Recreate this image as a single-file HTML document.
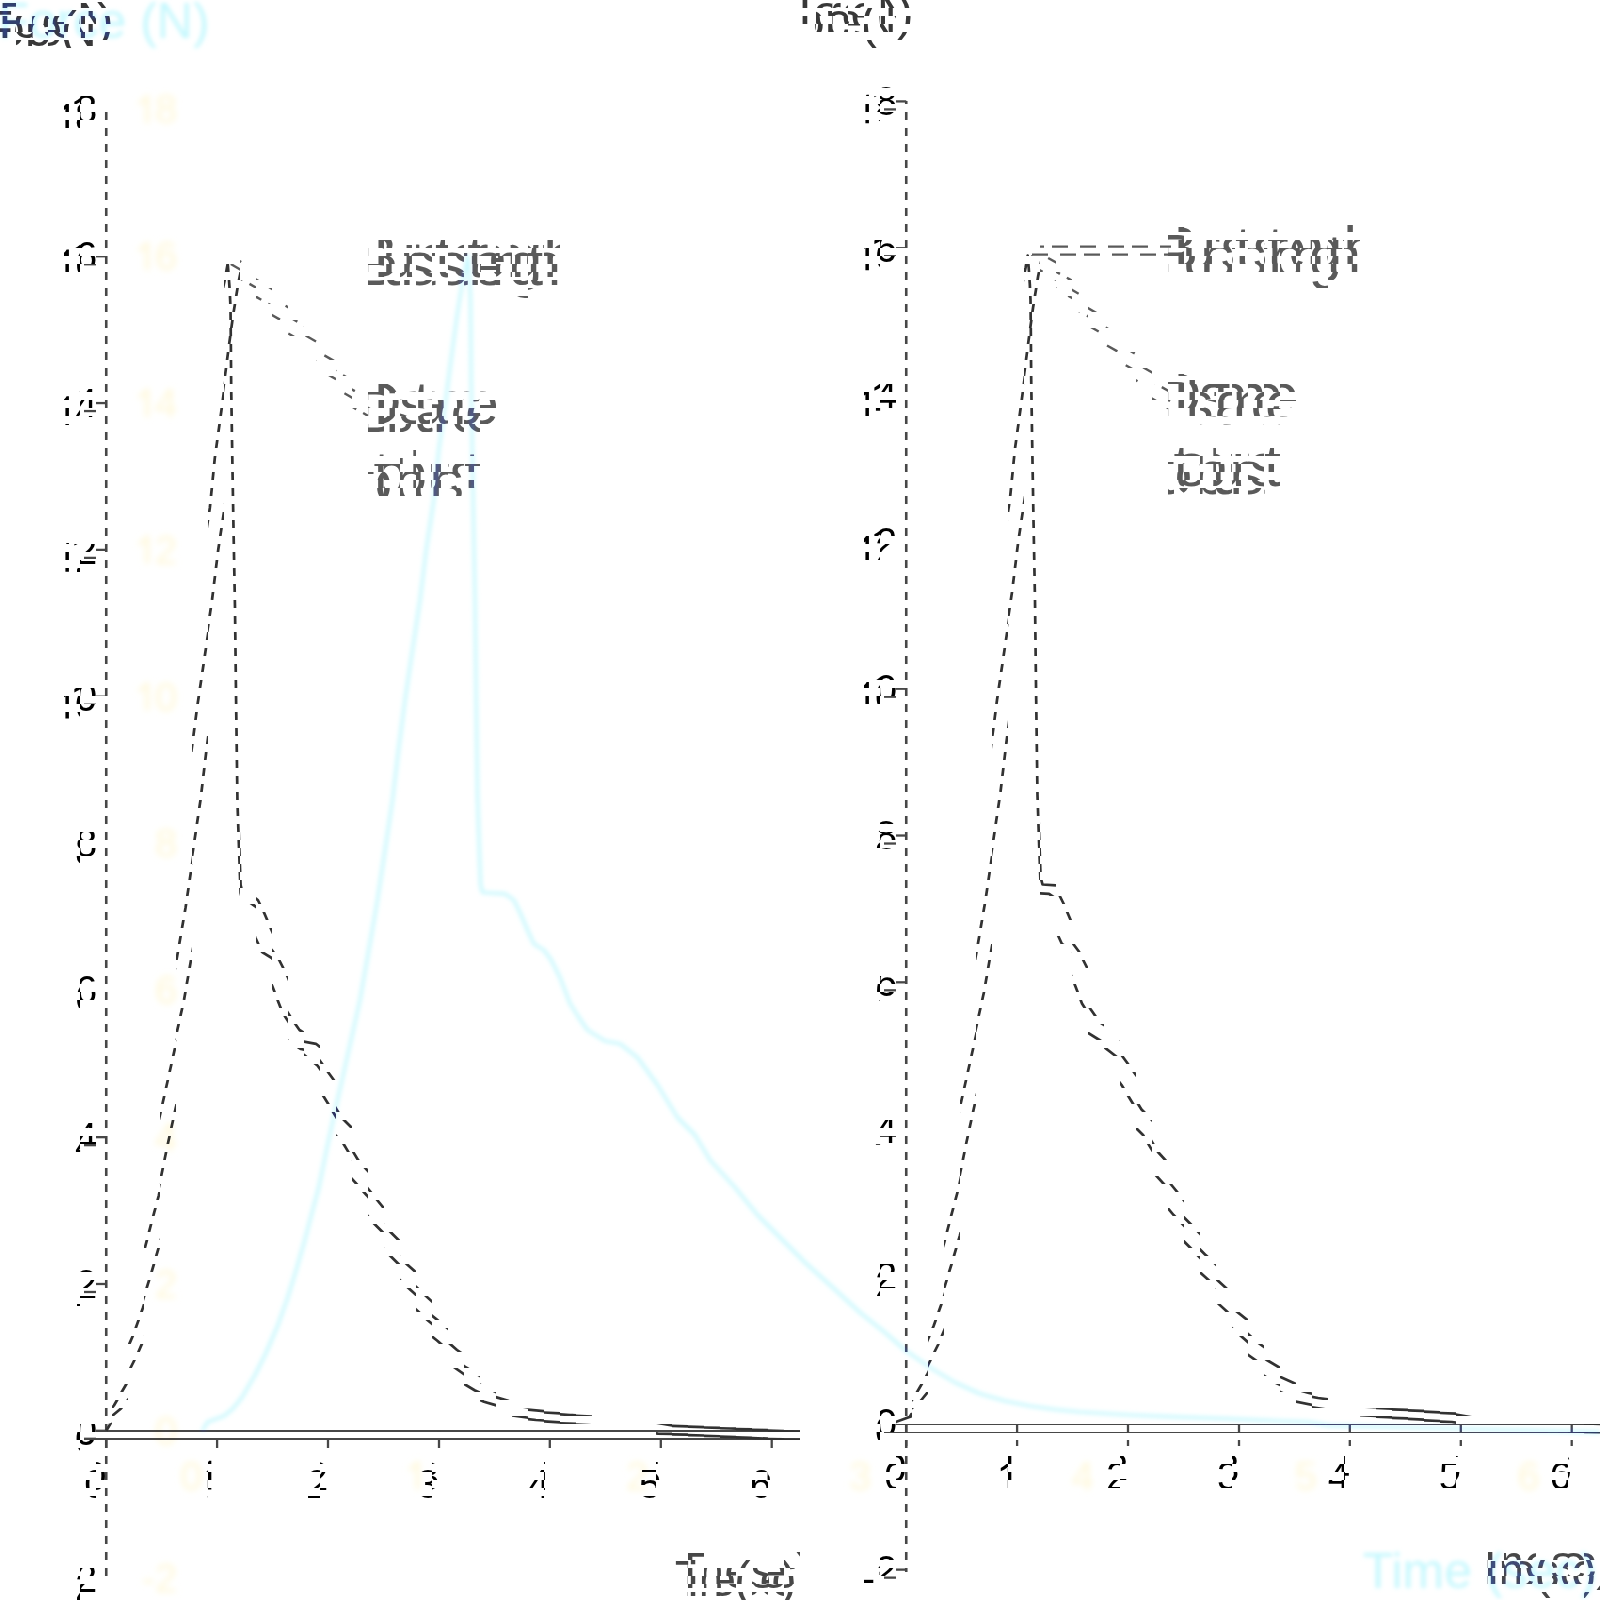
<!DOCTYPE html><html><head><meta charset="utf-8"><title>chart</title>
<style>html,body{margin:0;padding:0;background:#fff;overflow:hidden}body>svg{display:block;position:absolute;left:0;top:0}</style></head><body>
<svg width="1600" height="1600" viewBox="0 0 1600 1600">
<defs>
<g id="src"><path d="M202.25,109 V1580" stroke="#464646" stroke-width="2.6" fill="none"/>
<path d="M180,1431.55 H1600" stroke="#464646" stroke-width="2.9" fill="none"/>
<path d="M180,1577.62 H202.25" stroke="#464646" stroke-width="2.3"/>
<text x="154.96" y="1591.52" font-size="40" fill="#000" font-family="Liberation Sans, sans-serif">2</text><text x="141.64" y="1591.52" font-size="40" fill="#000" font-family="Liberation Sans, sans-serif">-</text>
<path d="M180,1430.80 H202.25" stroke="#464646" stroke-width="2.3"/>
<text x="154.96" y="1444.70" font-size="40" fill="#000" font-family="Liberation Sans, sans-serif">0</text>
<path d="M180,1283.98 H202.25" stroke="#464646" stroke-width="2.3"/>
<text x="154.96" y="1297.88" font-size="40" fill="#000" font-family="Liberation Sans, sans-serif">2</text>
<path d="M180,1137.16 H202.25" stroke="#464646" stroke-width="2.3"/>
<text x="154.96" y="1151.06" font-size="40" fill="#000" font-family="Liberation Sans, sans-serif">4</text>
<path d="M180,990.34 H202.25" stroke="#464646" stroke-width="2.3"/>
<text x="154.96" y="1004.24" font-size="40" fill="#000" font-family="Liberation Sans, sans-serif">6</text>
<path d="M180,843.52 H202.25" stroke="#464646" stroke-width="2.3"/>
<text x="154.96" y="857.42" font-size="40" fill="#000" font-family="Liberation Sans, sans-serif">8</text>
<path d="M180,696.70 H202.25" stroke="#464646" stroke-width="2.3"/>
<text x="154.96" y="710.60" font-size="40" fill="#000" font-family="Liberation Sans, sans-serif">0</text><path transform="translate(134.02,710.60) scale(0.01953,-0.01953)" d="M763 0 H583 V1147 Q518 1085 412.5 1023 T223 930 V1104 Q373 1174.5 485 1274.5 T644 1469 H763 Z" fill="#000"/>
<path d="M180,549.88 H202.25" stroke="#464646" stroke-width="2.3"/>
<text x="154.96" y="563.78" font-size="40" fill="#000" font-family="Liberation Sans, sans-serif">2</text><path transform="translate(134.02,563.78) scale(0.01953,-0.01953)" d="M763 0 H583 V1147 Q518 1085 412.5 1023 T223 930 V1104 Q373 1174.5 485 1274.5 T644 1469 H763 Z" fill="#000"/>
<path d="M180,403.06 H202.25" stroke="#464646" stroke-width="2.3"/>
<text x="154.96" y="416.96" font-size="40" fill="#000" font-family="Liberation Sans, sans-serif">4</text><path transform="translate(134.02,416.96) scale(0.01953,-0.01953)" d="M763 0 H583 V1147 Q518 1085 412.5 1023 T223 930 V1104 Q373 1174.5 485 1274.5 T644 1469 H763 Z" fill="#000"/>
<path d="M180,256.24 H202.25" stroke="#464646" stroke-width="2.3"/>
<text x="154.96" y="270.14" font-size="40" fill="#000" font-family="Liberation Sans, sans-serif">6</text><path transform="translate(134.02,270.14) scale(0.01953,-0.01953)" d="M763 0 H583 V1147 Q518 1085 412.5 1023 T223 930 V1104 Q373 1174.5 485 1274.5 T644 1469 H763 Z" fill="#000"/>
<path d="M180,109.42 H202.25" stroke="#464646" stroke-width="2.3"/>
<text x="154.96" y="123.32" font-size="40" fill="#000" font-family="Liberation Sans, sans-serif">8</text><path transform="translate(134.02,123.32) scale(0.01953,-0.01953)" d="M763 0 H583 V1147 Q518 1085 412.5 1023 T223 930 V1104 Q373 1174.5 485 1274.5 T644 1469 H763 Z" fill="#000"/>
<path d="M202.2,1431.55 V1454" stroke="#464646" stroke-width="2.3"/>
<text x="180.21" y="1489.50" font-size="40" fill="#000" font-family="Liberation Sans, sans-serif">0</text>
<path d="M425.1,1431.55 V1454" stroke="#464646" stroke-width="2.3"/>
<path transform="translate(404.41,1489.50) scale(0.01953,-0.01953)" d="M763 0 H583 V1147 Q518 1085 412.5 1023 T223 930 V1104 Q373 1174.5 485 1274.5 T644 1469 H763 Z" fill="#000"/>
<path d="M648.0,1431.55 V1454" stroke="#464646" stroke-width="2.3"/>
<text x="626.01" y="1489.50" font-size="40" fill="#000" font-family="Liberation Sans, sans-serif">2</text>
<path d="M871.0,1431.55 V1454" stroke="#464646" stroke-width="2.3"/>
<text x="848.91" y="1489.50" font-size="40" fill="#000" font-family="Liberation Sans, sans-serif">3</text>
<path d="M1093.8,1431.55 V1454" stroke="#464646" stroke-width="2.3"/>
<text x="1071.81" y="1489.50" font-size="40" fill="#000" font-family="Liberation Sans, sans-serif">4</text>
<path d="M1316.8,1431.55 V1454" stroke="#464646" stroke-width="2.3"/>
<text x="1294.71" y="1489.50" font-size="40" fill="#000" font-family="Liberation Sans, sans-serif">5</text>
<path d="M1539.7,1431.55 V1454" stroke="#464646" stroke-width="2.3"/>
<text x="1517.61" y="1489.50" font-size="40" fill="#000" font-family="Liberation Sans, sans-serif">6</text>
<text x="741.5" y="276.5" font-size="61" fill="#5a5a5a" font-family="Liberation Sans, sans-serif">Burst strength</text>
<text x="741.5" y="424.2" font-size="61" fill="#5a5a5a" font-family="Liberation Sans, sans-serif">Distance</text>
<text x="741.5" y="493.5" font-size="61" fill="#5a5a5a" font-family="Liberation Sans, sans-serif">to burst</text>
<path d="M472,254.6 H739" stroke="#5a5a5a" stroke-width="2.4" stroke-dasharray="12 8" fill="none"/>
<path d="M470.8,256 L738,409" stroke="#5a5a5a" stroke-width="2.4" stroke-dasharray="12 8" fill="none"/>
 <text x="-1.5" y="37.5" font-size="50" fill="#393939" font-family="Liberation Sans, sans-serif">Force (N)</text>
<text x="1597" y="1588.3" font-size="50" text-anchor="end" fill="#464646" font-family="Liberation Sans, sans-serif">Time (sec)</text>
<path d="M202.3,1430.8 L207.5,1422.0 L224.0,1416.0 L233.0,1408.5 L241.9,1397.5 L255.0,1375.0 L266.2,1352.5 L277.5,1326.2 L286.9,1300.0 L296.2,1270.0 L303.8,1243.8 L311.2,1215.6 L318.8,1187.5 L326.5,1150.0 L337.5,1100.0 L348.8,1050.0 L360.0,1000.0 L368.8,950.0 L377.5,900.0 L385.0,850.0 L392.5,800.0 L398.5,750.0 L405.0,700.0 L412.5,650.0 L420.0,600.0 L426.2,550.0 L433.8,500.0 L438.8,450.0 L445.5,402.0 L452.6,348.0 L457.0,316.0 L462.2,284.0 L465.5,268.0 L467.7,255.5 L468.7,268.0 L469.8,284.0 L470.5,300.0 L470.8,330.0 L471.2,380.0 L472.3,450.0 L473.5,520.0 L475.0,600.0 L476.2,700.0 L477.5,795.0 L479.0,840.0 L480.6,885.0 L482.5,892.5 L505.0,893.8 L513.8,900.0 L520.0,912.5 L527.5,930.0 L533.8,943.8 L543.8,950.0 L551.2,960.0 L560.0,977.5 L570.0,1003.5 L578.8,1017.5 L587.5,1030.0 L605.0,1041.0 L620.0,1043.8 L637.5,1057.5 L657.5,1085.0 L677.5,1117.5 L695.0,1135.0 L710.0,1160.0 L735.0,1187.5 L757.5,1215.0 L780.0,1237.5 L805.0,1262.5 L830.0,1285.0 L860.0,1312.5 L885.0,1332.5 L905.0,1350.0 L930.0,1367.5 L955.0,1382.5 L980.0,1393.8 L1005.0,1401.0 L1030.0,1406.0 L1055.0,1409.5 L1080.0,1412.0 L1130.0,1415.0 L1180.0,1417.2 L1230.0,1418.8 L1280.0,1421.0 L1308.0,1422.0 L1330.0,1425.6 L1450.0,1428.5 L1577.0,1431.6 L1600.0,1432.2" stroke="#323232" stroke-width="2.7" fill="none" stroke-linejoin="round"/></g>
<clipPath id="cA"><rect x="0" y="0" width="1600" height="8"/><rect x="0" y="16" width="1600" height="8"/><rect x="0" y="32" width="1600" height="8"/><rect x="0" y="48" width="1600" height="8"/><rect x="0" y="64" width="1600" height="8"/><rect x="0" y="80" width="1600" height="8"/><rect x="0" y="96" width="1600" height="8"/><rect x="0" y="112" width="1600" height="8"/><rect x="0" y="128" width="1600" height="8"/><rect x="0" y="144" width="1600" height="8"/><rect x="0" y="160" width="1600" height="8"/><rect x="0" y="176" width="1600" height="8"/><rect x="0" y="192" width="1600" height="8"/><rect x="0" y="208" width="1600" height="8"/><rect x="0" y="224" width="1600" height="8"/><rect x="0" y="240" width="1600" height="8"/><rect x="0" y="256" width="1600" height="8"/><rect x="0" y="272" width="1600" height="8"/><rect x="0" y="288" width="1600" height="8"/><rect x="0" y="304" width="1600" height="8"/><rect x="0" y="320" width="1600" height="8"/><rect x="0" y="336" width="1600" height="8"/><rect x="0" y="352" width="1600" height="8"/><rect x="0" y="368" width="1600" height="8"/><rect x="0" y="384" width="1600" height="8"/><rect x="0" y="400" width="1600" height="8"/><rect x="0" y="416" width="1600" height="8"/><rect x="0" y="432" width="1600" height="8"/><rect x="0" y="448" width="1600" height="8"/><rect x="0" y="464" width="1600" height="8"/><rect x="0" y="480" width="1600" height="8"/><rect x="0" y="496" width="1600" height="8"/><rect x="0" y="512" width="1600" height="8"/><rect x="0" y="528" width="1600" height="8"/><rect x="0" y="544" width="1600" height="8"/><rect x="0" y="560" width="1600" height="8"/><rect x="0" y="576" width="1600" height="8"/><rect x="0" y="592" width="1600" height="8"/><rect x="0" y="608" width="1600" height="8"/><rect x="0" y="624" width="1600" height="8"/><rect x="0" y="640" width="1600" height="8"/><rect x="0" y="656" width="1600" height="8"/><rect x="0" y="672" width="1600" height="8"/><rect x="0" y="688" width="1600" height="8"/><rect x="0" y="704" width="1600" height="8"/><rect x="0" y="720" width="1600" height="8"/><rect x="0" y="736" width="1600" height="8"/><rect x="0" y="752" width="1600" height="8"/><rect x="0" y="768" width="1600" height="8"/><rect x="0" y="784" width="1600" height="8"/><rect x="0" y="800" width="1600" height="8"/><rect x="0" y="816" width="1600" height="8"/><rect x="0" y="832" width="1600" height="8"/><rect x="0" y="848" width="1600" height="8"/><rect x="0" y="864" width="1600" height="8"/><rect x="0" y="880" width="1600" height="8"/><rect x="0" y="896" width="1600" height="8"/><rect x="0" y="912" width="1600" height="8"/><rect x="0" y="928" width="1600" height="8"/><rect x="0" y="944" width="1600" height="8"/><rect x="0" y="960" width="1600" height="8"/><rect x="0" y="976" width="1600" height="8"/><rect x="0" y="992" width="1600" height="8"/><rect x="0" y="1008" width="1600" height="8"/><rect x="0" y="1024" width="1600" height="8"/><rect x="0" y="1040" width="1600" height="8"/><rect x="0" y="1056" width="1600" height="8"/><rect x="0" y="1072" width="1600" height="8"/><rect x="0" y="1088" width="1600" height="8"/><rect x="0" y="1104" width="1600" height="8"/><rect x="0" y="1120" width="1600" height="8"/><rect x="0" y="1136" width="1600" height="8"/><rect x="0" y="1152" width="1600" height="8"/><rect x="0" y="1168" width="1600" height="8"/><rect x="0" y="1184" width="1600" height="8"/><rect x="0" y="1200" width="1600" height="8"/><rect x="0" y="1216" width="1600" height="8"/><rect x="0" y="1232" width="1600" height="8"/><rect x="0" y="1248" width="1600" height="8"/><rect x="0" y="1264" width="1600" height="8"/><rect x="0" y="1280" width="1600" height="8"/><rect x="0" y="1296" width="1600" height="8"/><rect x="0" y="1312" width="1600" height="8"/><rect x="0" y="1328" width="1600" height="8"/><rect x="0" y="1344" width="1600" height="8"/><rect x="0" y="1360" width="1600" height="8"/><rect x="0" y="1376" width="1600" height="8"/><rect x="0" y="1392" width="1600" height="8"/><rect x="0" y="1408" width="1600" height="8"/><rect x="0" y="1424" width="1600" height="8"/><rect x="0" y="1440" width="1600" height="8"/><rect x="0" y="1456" width="1600" height="8"/><rect x="0" y="1472" width="1600" height="8"/><rect x="0" y="1488" width="1600" height="8"/><rect x="0" y="1504" width="1600" height="8"/><rect x="0" y="1520" width="1600" height="8"/><rect x="0" y="1536" width="1600" height="8"/><rect x="0" y="1552" width="1600" height="8"/><rect x="0" y="1568" width="1600" height="8"/><rect x="0" y="1584" width="1600" height="8"/></clipPath><clipPath id="cB"><rect x="0" y="8" width="1600" height="8"/><rect x="0" y="24" width="1600" height="8"/><rect x="0" y="40" width="1600" height="8"/><rect x="0" y="56" width="1600" height="8"/><rect x="0" y="72" width="1600" height="8"/><rect x="0" y="88" width="1600" height="8"/><rect x="0" y="104" width="1600" height="8"/><rect x="0" y="120" width="1600" height="8"/><rect x="0" y="136" width="1600" height="8"/><rect x="0" y="152" width="1600" height="8"/><rect x="0" y="168" width="1600" height="8"/><rect x="0" y="184" width="1600" height="8"/><rect x="0" y="200" width="1600" height="8"/><rect x="0" y="216" width="1600" height="8"/><rect x="0" y="232" width="1600" height="8"/><rect x="0" y="248" width="1600" height="8"/><rect x="0" y="264" width="1600" height="8"/><rect x="0" y="280" width="1600" height="8"/><rect x="0" y="296" width="1600" height="8"/><rect x="0" y="312" width="1600" height="8"/><rect x="0" y="328" width="1600" height="8"/><rect x="0" y="344" width="1600" height="8"/><rect x="0" y="360" width="1600" height="8"/><rect x="0" y="376" width="1600" height="8"/><rect x="0" y="392" width="1600" height="8"/><rect x="0" y="408" width="1600" height="8"/><rect x="0" y="424" width="1600" height="8"/><rect x="0" y="440" width="1600" height="8"/><rect x="0" y="456" width="1600" height="8"/><rect x="0" y="472" width="1600" height="8"/><rect x="0" y="488" width="1600" height="8"/><rect x="0" y="504" width="1600" height="8"/><rect x="0" y="520" width="1600" height="8"/><rect x="0" y="536" width="1600" height="8"/><rect x="0" y="552" width="1600" height="8"/><rect x="0" y="568" width="1600" height="8"/><rect x="0" y="584" width="1600" height="8"/><rect x="0" y="600" width="1600" height="8"/><rect x="0" y="616" width="1600" height="8"/><rect x="0" y="632" width="1600" height="8"/><rect x="0" y="648" width="1600" height="8"/><rect x="0" y="664" width="1600" height="8"/><rect x="0" y="680" width="1600" height="8"/><rect x="0" y="696" width="1600" height="8"/><rect x="0" y="712" width="1600" height="8"/><rect x="0" y="728" width="1600" height="8"/><rect x="0" y="744" width="1600" height="8"/><rect x="0" y="760" width="1600" height="8"/><rect x="0" y="776" width="1600" height="8"/><rect x="0" y="792" width="1600" height="8"/><rect x="0" y="808" width="1600" height="8"/><rect x="0" y="824" width="1600" height="8"/><rect x="0" y="840" width="1600" height="8"/><rect x="0" y="856" width="1600" height="8"/><rect x="0" y="872" width="1600" height="8"/><rect x="0" y="888" width="1600" height="8"/><rect x="0" y="904" width="1600" height="8"/><rect x="0" y="920" width="1600" height="8"/><rect x="0" y="936" width="1600" height="8"/><rect x="0" y="952" width="1600" height="8"/><rect x="0" y="968" width="1600" height="8"/><rect x="0" y="984" width="1600" height="8"/><rect x="0" y="1000" width="1600" height="8"/><rect x="0" y="1016" width="1600" height="8"/><rect x="0" y="1032" width="1600" height="8"/><rect x="0" y="1048" width="1600" height="8"/><rect x="0" y="1064" width="1600" height="8"/><rect x="0" y="1080" width="1600" height="8"/><rect x="0" y="1096" width="1600" height="8"/><rect x="0" y="1112" width="1600" height="8"/><rect x="0" y="1128" width="1600" height="8"/><rect x="0" y="1144" width="1600" height="8"/><rect x="0" y="1160" width="1600" height="8"/><rect x="0" y="1176" width="1600" height="8"/><rect x="0" y="1192" width="1600" height="8"/><rect x="0" y="1208" width="1600" height="8"/><rect x="0" y="1224" width="1600" height="8"/><rect x="0" y="1240" width="1600" height="8"/><rect x="0" y="1256" width="1600" height="8"/><rect x="0" y="1272" width="1600" height="8"/><rect x="0" y="1288" width="1600" height="8"/><rect x="0" y="1304" width="1600" height="8"/><rect x="0" y="1320" width="1600" height="8"/><rect x="0" y="1336" width="1600" height="8"/><rect x="0" y="1352" width="1600" height="8"/><rect x="0" y="1368" width="1600" height="8"/><rect x="0" y="1384" width="1600" height="8"/><rect x="0" y="1400" width="1600" height="8"/><rect x="0" y="1416" width="1600" height="8"/><rect x="0" y="1432" width="1600" height="8"/><rect x="0" y="1448" width="1600" height="8"/><rect x="0" y="1464" width="1600" height="8"/><rect x="0" y="1480" width="1600" height="8"/><rect x="0" y="1496" width="1600" height="8"/><rect x="0" y="1512" width="1600" height="8"/><rect x="0" y="1528" width="1600" height="8"/><rect x="0" y="1544" width="1600" height="8"/><rect x="0" y="1560" width="1600" height="8"/><rect x="0" y="1576" width="1600" height="8"/><rect x="0" y="1592" width="1600" height="8"/></clipPath>
<filter id="soft" x="0" y="0" width="1600" height="1600" filterUnits="userSpaceOnUse"><feGaussianBlur stdDeviation="0.45"/></filter>
<filter id="bl2" x="-20%" y="-20%" width="140%" height="140%"><feGaussianBlur stdDeviation="3"/></filter>
<filter id="bl" x="-5%" y="-5%" width="110%" height="110%"><feGaussianBlur stdDeviation="2"/></filter>
</defs>
<rect width="1600" height="1600" fill="#fff"/>
<g filter="url(#soft)">
<g clip-path="url(#cA)">
<svg x="0" y="0" width="16" height="1600" viewBox="0 0 16 1600"><use href="#src"/></svg><svg x="16" y="0" width="16" height="1600" viewBox="32 0 16 1600"><use href="#src"/></svg><svg x="32" y="0" width="16" height="1600" viewBox="64 0 16 1600"><use href="#src"/></svg><svg x="48" y="0" width="16" height="1600" viewBox="96 0 16 1600"><use href="#src"/></svg><svg x="64" y="0" width="16" height="1600" viewBox="128 0 16 1600"><use href="#src"/></svg><svg x="80" y="0" width="16" height="1600" viewBox="160 0 16 1600"><use href="#src"/></svg><svg x="96" y="0" width="16" height="1600" viewBox="192 0 16 1600"><use href="#src"/></svg><svg x="112" y="0" width="16" height="1600" viewBox="224 0 16 1600"><use href="#src"/></svg><svg x="128" y="0" width="16" height="1600" viewBox="256 0 16 1600"><use href="#src"/></svg><svg x="144" y="0" width="16" height="1600" viewBox="288 0 16 1600"><use href="#src"/></svg><svg x="160" y="0" width="16" height="1600" viewBox="320 0 16 1600"><use href="#src"/></svg><svg x="176" y="0" width="16" height="1600" viewBox="352 0 16 1600"><use href="#src"/></svg><svg x="192" y="0" width="16" height="1600" viewBox="384 0 16 1600"><use href="#src"/></svg><svg x="208" y="0" width="16" height="1600" viewBox="416 0 16 1600"><use href="#src"/></svg><svg x="224" y="0" width="16" height="1600" viewBox="448 0 16 1600"><use href="#src"/></svg><svg x="240" y="0" width="16" height="1600" viewBox="480 0 16 1600"><use href="#src"/></svg><svg x="256" y="0" width="16" height="1600" viewBox="512 0 16 1600"><use href="#src"/></svg><svg x="272" y="0" width="16" height="1600" viewBox="544 0 16 1600"><use href="#src"/></svg><svg x="288" y="0" width="16" height="1600" viewBox="576 0 16 1600"><use href="#src"/></svg><svg x="304" y="0" width="16" height="1600" viewBox="608 0 16 1600"><use href="#src"/></svg><svg x="320" y="0" width="16" height="1600" viewBox="640 0 16 1600"><use href="#src"/></svg><svg x="336" y="0" width="16" height="1600" viewBox="672 0 16 1600"><use href="#src"/></svg><svg x="352" y="0" width="16" height="1600" viewBox="704 0 16 1600"><use href="#src"/></svg><svg x="368" y="0" width="16" height="1600" viewBox="736 0 16 1600"><use href="#src"/></svg><svg x="384" y="0" width="16" height="1600" viewBox="768 0 16 1600"><use href="#src"/></svg><svg x="400" y="0" width="16" height="1600" viewBox="800 0 16 1600"><use href="#src"/></svg><svg x="416" y="0" width="16" height="1600" viewBox="832 0 16 1600"><use href="#src"/></svg><svg x="432" y="0" width="16" height="1600" viewBox="864 0 16 1600"><use href="#src"/></svg><svg x="448" y="0" width="16" height="1600" viewBox="896 0 16 1600"><use href="#src"/></svg><svg x="464" y="0" width="16" height="1600" viewBox="928 0 16 1600"><use href="#src"/></svg><svg x="480" y="0" width="16" height="1600" viewBox="960 0 16 1600"><use href="#src"/></svg><svg x="496" y="0" width="16" height="1600" viewBox="992 0 16 1600"><use href="#src"/></svg><svg x="512" y="0" width="16" height="1600" viewBox="1024 0 16 1600"><use href="#src"/></svg><svg x="528" y="0" width="16" height="1600" viewBox="1056 0 16 1600"><use href="#src"/></svg><svg x="544" y="0" width="16" height="1600" viewBox="1088 0 16 1600"><use href="#src"/></svg><svg x="560" y="0" width="16" height="1600" viewBox="1120 0 16 1600"><use href="#src"/></svg><svg x="576" y="0" width="16" height="1600" viewBox="1152 0 16 1600"><use href="#src"/></svg><svg x="592" y="0" width="16" height="1600" viewBox="1184 0 16 1600"><use href="#src"/></svg><svg x="608" y="0" width="16" height="1600" viewBox="1216 0 16 1600"><use href="#src"/></svg><svg x="624" y="0" width="16" height="1600" viewBox="1248 0 16 1600"><use href="#src"/></svg><svg x="640" y="0" width="16" height="1600" viewBox="1280 0 16 1600"><use href="#src"/></svg><svg x="656" y="0" width="16" height="1600" viewBox="1312 0 16 1600"><use href="#src"/></svg><svg x="672" y="0" width="16" height="1600" viewBox="1344 0 16 1600"><use href="#src"/></svg><svg x="688" y="0" width="16" height="1600" viewBox="1376 0 16 1600"><use href="#src"/></svg><svg x="704" y="0" width="16" height="1600" viewBox="1408 0 16 1600"><use href="#src"/></svg><svg x="720" y="0" width="16" height="1600" viewBox="1440 0 16 1600"><use href="#src"/></svg><svg x="736" y="0" width="16" height="1600" viewBox="1472 0 16 1600"><use href="#src"/></svg><svg x="752" y="0" width="16" height="1600" viewBox="1504 0 16 1600"><use href="#src"/></svg><svg x="768" y="0" width="16" height="1600" viewBox="1536 0 16 1600"><use href="#src"/></svg><svg x="784" y="0" width="16" height="1600" viewBox="1568 0 16 1600"><use href="#src"/></svg>
<svg x="800" y="0" width="16" height="1600" viewBox="0 8 16 1600"><use href="#src"/></svg><svg x="816" y="0" width="16" height="1600" viewBox="32 8 16 1600"><use href="#src"/></svg><svg x="832" y="0" width="16" height="1600" viewBox="64 8 16 1600"><use href="#src"/></svg><svg x="848" y="0" width="16" height="1600" viewBox="96 8 16 1600"><use href="#src"/></svg><svg x="864" y="0" width="16" height="1600" viewBox="128 8 16 1600"><use href="#src"/></svg><svg x="880" y="0" width="16" height="1600" viewBox="160 8 16 1600"><use href="#src"/></svg><svg x="896" y="0" width="16" height="1600" viewBox="192 8 16 1600"><use href="#src"/></svg><svg x="912" y="0" width="16" height="1600" viewBox="224 8 16 1600"><use href="#src"/></svg><svg x="928" y="0" width="16" height="1600" viewBox="256 8 16 1600"><use href="#src"/></svg><svg x="944" y="0" width="16" height="1600" viewBox="288 8 16 1600"><use href="#src"/></svg><svg x="960" y="0" width="16" height="1600" viewBox="320 8 16 1600"><use href="#src"/></svg><svg x="976" y="0" width="16" height="1600" viewBox="352 8 16 1600"><use href="#src"/></svg><svg x="992" y="0" width="16" height="1600" viewBox="384 8 16 1600"><use href="#src"/></svg><svg x="1008" y="0" width="16" height="1600" viewBox="416 8 16 1600"><use href="#src"/></svg><svg x="1024" y="0" width="16" height="1600" viewBox="448 8 16 1600"><use href="#src"/></svg><svg x="1040" y="0" width="16" height="1600" viewBox="480 8 16 1600"><use href="#src"/></svg><svg x="1056" y="0" width="16" height="1600" viewBox="512 8 16 1600"><use href="#src"/></svg><svg x="1072" y="0" width="16" height="1600" viewBox="544 8 16 1600"><use href="#src"/></svg><svg x="1088" y="0" width="16" height="1600" viewBox="576 8 16 1600"><use href="#src"/></svg><svg x="1104" y="0" width="16" height="1600" viewBox="608 8 16 1600"><use href="#src"/></svg><svg x="1120" y="0" width="16" height="1600" viewBox="640 8 16 1600"><use href="#src"/></svg><svg x="1136" y="0" width="16" height="1600" viewBox="672 8 16 1600"><use href="#src"/></svg><svg x="1152" y="0" width="16" height="1600" viewBox="704 8 16 1600"><use href="#src"/></svg><svg x="1168" y="0" width="16" height="1600" viewBox="736 8 16 1600"><use href="#src"/></svg><svg x="1184" y="0" width="16" height="1600" viewBox="768 8 16 1600"><use href="#src"/></svg><svg x="1200" y="0" width="16" height="1600" viewBox="800 8 16 1600"><use href="#src"/></svg><svg x="1216" y="0" width="16" height="1600" viewBox="832 8 16 1600"><use href="#src"/></svg><svg x="1232" y="0" width="16" height="1600" viewBox="864 8 16 1600"><use href="#src"/></svg><svg x="1248" y="0" width="16" height="1600" viewBox="896 8 16 1600"><use href="#src"/></svg><svg x="1264" y="0" width="16" height="1600" viewBox="928 8 16 1600"><use href="#src"/></svg><svg x="1280" y="0" width="16" height="1600" viewBox="960 8 16 1600"><use href="#src"/></svg><svg x="1296" y="0" width="16" height="1600" viewBox="992 8 16 1600"><use href="#src"/></svg><svg x="1312" y="0" width="16" height="1600" viewBox="1024 8 16 1600"><use href="#src"/></svg><svg x="1328" y="0" width="16" height="1600" viewBox="1056 8 16 1600"><use href="#src"/></svg><svg x="1344" y="0" width="16" height="1600" viewBox="1088 8 16 1600"><use href="#src"/></svg><svg x="1360" y="0" width="16" height="1600" viewBox="1120 8 16 1600"><use href="#src"/></svg><svg x="1376" y="0" width="16" height="1600" viewBox="1152 8 16 1600"><use href="#src"/></svg><svg x="1392" y="0" width="16" height="1600" viewBox="1184 8 16 1600"><use href="#src"/></svg><svg x="1408" y="0" width="16" height="1600" viewBox="1216 8 16 1600"><use href="#src"/></svg><svg x="1424" y="0" width="16" height="1600" viewBox="1248 8 16 1600"><use href="#src"/></svg><svg x="1440" y="0" width="16" height="1600" viewBox="1280 8 16 1600"><use href="#src"/></svg><svg x="1456" y="0" width="16" height="1600" viewBox="1312 8 16 1600"><use href="#src"/></svg><svg x="1472" y="0" width="16" height="1600" viewBox="1344 8 16 1600"><use href="#src"/></svg><svg x="1488" y="0" width="16" height="1600" viewBox="1376 8 16 1600"><use href="#src"/></svg><svg x="1504" y="0" width="16" height="1600" viewBox="1408 8 16 1600"><use href="#src"/></svg><svg x="1520" y="0" width="16" height="1600" viewBox="1440 8 16 1600"><use href="#src"/></svg><svg x="1536" y="0" width="16" height="1600" viewBox="1472 8 16 1600"><use href="#src"/></svg><svg x="1552" y="0" width="16" height="1600" viewBox="1504 8 16 1600"><use href="#src"/></svg><svg x="1568" y="0" width="16" height="1600" viewBox="1536 8 16 1600"><use href="#src"/></svg><svg x="1584" y="0" width="16" height="1600" viewBox="1568 8 16 1600"><use href="#src"/></svg>
</g>
<g clip-path="url(#cB)">
<svg x="0" y="0" width="16" height="1600" viewBox="16 -8 16 1600"><use href="#src"/></svg><svg x="16" y="0" width="16" height="1600" viewBox="48 -8 16 1600"><use href="#src"/></svg><svg x="32" y="0" width="16" height="1600" viewBox="80 -8 16 1600"><use href="#src"/></svg><svg x="48" y="0" width="16" height="1600" viewBox="112 -8 16 1600"><use href="#src"/></svg><svg x="64" y="0" width="16" height="1600" viewBox="144 -8 16 1600"><use href="#src"/></svg><svg x="80" y="0" width="16" height="1600" viewBox="176 -8 16 1600"><use href="#src"/></svg><svg x="96" y="0" width="16" height="1600" viewBox="208 -8 16 1600"><use href="#src"/></svg><svg x="112" y="0" width="16" height="1600" viewBox="240 -8 16 1600"><use href="#src"/></svg><svg x="128" y="0" width="16" height="1600" viewBox="272 -8 16 1600"><use href="#src"/></svg><svg x="144" y="0" width="16" height="1600" viewBox="304 -8 16 1600"><use href="#src"/></svg><svg x="160" y="0" width="16" height="1600" viewBox="336 -8 16 1600"><use href="#src"/></svg><svg x="176" y="0" width="16" height="1600" viewBox="368 -8 16 1600"><use href="#src"/></svg><svg x="192" y="0" width="16" height="1600" viewBox="400 -8 16 1600"><use href="#src"/></svg><svg x="208" y="0" width="16" height="1600" viewBox="432 -8 16 1600"><use href="#src"/></svg><svg x="224" y="0" width="16" height="1600" viewBox="464 -8 16 1600"><use href="#src"/></svg><svg x="240" y="0" width="16" height="1600" viewBox="496 -8 16 1600"><use href="#src"/></svg><svg x="256" y="0" width="16" height="1600" viewBox="528 -8 16 1600"><use href="#src"/></svg><svg x="272" y="0" width="16" height="1600" viewBox="560 -8 16 1600"><use href="#src"/></svg><svg x="288" y="0" width="16" height="1600" viewBox="592 -8 16 1600"><use href="#src"/></svg><svg x="304" y="0" width="16" height="1600" viewBox="624 -8 16 1600"><use href="#src"/></svg><svg x="320" y="0" width="16" height="1600" viewBox="656 -8 16 1600"><use href="#src"/></svg><svg x="336" y="0" width="16" height="1600" viewBox="688 -8 16 1600"><use href="#src"/></svg><svg x="352" y="0" width="16" height="1600" viewBox="720 -8 16 1600"><use href="#src"/></svg><svg x="368" y="0" width="16" height="1600" viewBox="752 -8 16 1600"><use href="#src"/></svg><svg x="384" y="0" width="16" height="1600" viewBox="784 -8 16 1600"><use href="#src"/></svg><svg x="400" y="0" width="16" height="1600" viewBox="816 -8 16 1600"><use href="#src"/></svg><svg x="416" y="0" width="16" height="1600" viewBox="848 -8 16 1600"><use href="#src"/></svg><svg x="432" y="0" width="16" height="1600" viewBox="880 -8 16 1600"><use href="#src"/></svg><svg x="448" y="0" width="16" height="1600" viewBox="912 -8 16 1600"><use href="#src"/></svg><svg x="464" y="0" width="16" height="1600" viewBox="944 -8 16 1600"><use href="#src"/></svg><svg x="480" y="0" width="16" height="1600" viewBox="976 -8 16 1600"><use href="#src"/></svg><svg x="496" y="0" width="16" height="1600" viewBox="1008 -8 16 1600"><use href="#src"/></svg><svg x="512" y="0" width="16" height="1600" viewBox="1040 -8 16 1600"><use href="#src"/></svg><svg x="528" y="0" width="16" height="1600" viewBox="1072 -8 16 1600"><use href="#src"/></svg><svg x="544" y="0" width="16" height="1600" viewBox="1104 -8 16 1600"><use href="#src"/></svg><svg x="560" y="0" width="16" height="1600" viewBox="1136 -8 16 1600"><use href="#src"/></svg><svg x="576" y="0" width="16" height="1600" viewBox="1168 -8 16 1600"><use href="#src"/></svg><svg x="592" y="0" width="16" height="1600" viewBox="1200 -8 16 1600"><use href="#src"/></svg><svg x="608" y="0" width="16" height="1600" viewBox="1232 -8 16 1600"><use href="#src"/></svg><svg x="624" y="0" width="16" height="1600" viewBox="1264 -8 16 1600"><use href="#src"/></svg><svg x="640" y="0" width="16" height="1600" viewBox="1296 -8 16 1600"><use href="#src"/></svg><svg x="656" y="0" width="16" height="1600" viewBox="1328 -8 16 1600"><use href="#src"/></svg><svg x="672" y="0" width="16" height="1600" viewBox="1360 -8 16 1600"><use href="#src"/></svg><svg x="688" y="0" width="16" height="1600" viewBox="1392 -8 16 1600"><use href="#src"/></svg><svg x="704" y="0" width="16" height="1600" viewBox="1424 -8 16 1600"><use href="#src"/></svg><svg x="720" y="0" width="16" height="1600" viewBox="1456 -8 16 1600"><use href="#src"/></svg><svg x="736" y="0" width="16" height="1600" viewBox="1488 -8 16 1600"><use href="#src"/></svg><svg x="752" y="0" width="16" height="1600" viewBox="1520 -8 16 1600"><use href="#src"/></svg><svg x="768" y="0" width="16" height="1600" viewBox="1552 -8 16 1600"><use href="#src"/></svg><svg x="784" y="0" width="16" height="1600" viewBox="1584 -8 16 1600"><use href="#src"/></svg>
<svg x="800" y="0" width="16" height="1600" viewBox="16 0 16 1600"><use href="#src"/></svg><svg x="816" y="0" width="16" height="1600" viewBox="48 0 16 1600"><use href="#src"/></svg><svg x="832" y="0" width="16" height="1600" viewBox="80 0 16 1600"><use href="#src"/></svg><svg x="848" y="0" width="16" height="1600" viewBox="112 0 16 1600"><use href="#src"/></svg><svg x="864" y="0" width="16" height="1600" viewBox="144 0 16 1600"><use href="#src"/></svg><svg x="880" y="0" width="16" height="1600" viewBox="176 0 16 1600"><use href="#src"/></svg><svg x="896" y="0" width="16" height="1600" viewBox="208 0 16 1600"><use href="#src"/></svg><svg x="912" y="0" width="16" height="1600" viewBox="240 0 16 1600"><use href="#src"/></svg><svg x="928" y="0" width="16" height="1600" viewBox="272 0 16 1600"><use href="#src"/></svg><svg x="944" y="0" width="16" height="1600" viewBox="304 0 16 1600"><use href="#src"/></svg><svg x="960" y="0" width="16" height="1600" viewBox="336 0 16 1600"><use href="#src"/></svg><svg x="976" y="0" width="16" height="1600" viewBox="368 0 16 1600"><use href="#src"/></svg><svg x="992" y="0" width="16" height="1600" viewBox="400 0 16 1600"><use href="#src"/></svg><svg x="1008" y="0" width="16" height="1600" viewBox="432 0 16 1600"><use href="#src"/></svg><svg x="1024" y="0" width="16" height="1600" viewBox="464 0 16 1600"><use href="#src"/></svg><svg x="1040" y="0" width="16" height="1600" viewBox="496 0 16 1600"><use href="#src"/></svg><svg x="1056" y="0" width="16" height="1600" viewBox="528 0 16 1600"><use href="#src"/></svg><svg x="1072" y="0" width="16" height="1600" viewBox="560 0 16 1600"><use href="#src"/></svg><svg x="1088" y="0" width="16" height="1600" viewBox="592 0 16 1600"><use href="#src"/></svg><svg x="1104" y="0" width="16" height="1600" viewBox="624 0 16 1600"><use href="#src"/></svg><svg x="1120" y="0" width="16" height="1600" viewBox="656 0 16 1600"><use href="#src"/></svg><svg x="1136" y="0" width="16" height="1600" viewBox="688 0 16 1600"><use href="#src"/></svg><svg x="1152" y="0" width="16" height="1600" viewBox="720 0 16 1600"><use href="#src"/></svg><svg x="1168" y="0" width="16" height="1600" viewBox="752 0 16 1600"><use href="#src"/></svg><svg x="1184" y="0" width="16" height="1600" viewBox="784 0 16 1600"><use href="#src"/></svg><svg x="1200" y="0" width="16" height="1600" viewBox="816 0 16 1600"><use href="#src"/></svg><svg x="1216" y="0" width="16" height="1600" viewBox="848 0 16 1600"><use href="#src"/></svg><svg x="1232" y="0" width="16" height="1600" viewBox="880 0 16 1600"><use href="#src"/></svg><svg x="1248" y="0" width="16" height="1600" viewBox="912 0 16 1600"><use href="#src"/></svg><svg x="1264" y="0" width="16" height="1600" viewBox="944 0 16 1600"><use href="#src"/></svg><svg x="1280" y="0" width="16" height="1600" viewBox="976 0 16 1600"><use href="#src"/></svg><svg x="1296" y="0" width="16" height="1600" viewBox="1008 0 16 1600"><use href="#src"/></svg><svg x="1312" y="0" width="16" height="1600" viewBox="1040 0 16 1600"><use href="#src"/></svg><svg x="1328" y="0" width="16" height="1600" viewBox="1072 0 16 1600"><use href="#src"/></svg><svg x="1344" y="0" width="16" height="1600" viewBox="1104 0 16 1600"><use href="#src"/></svg><svg x="1360" y="0" width="16" height="1600" viewBox="1136 0 16 1600"><use href="#src"/></svg><svg x="1376" y="0" width="16" height="1600" viewBox="1168 0 16 1600"><use href="#src"/></svg><svg x="1392" y="0" width="16" height="1600" viewBox="1200 0 16 1600"><use href="#src"/></svg><svg x="1408" y="0" width="16" height="1600" viewBox="1232 0 16 1600"><use href="#src"/></svg><svg x="1424" y="0" width="16" height="1600" viewBox="1264 0 16 1600"><use href="#src"/></svg><svg x="1440" y="0" width="16" height="1600" viewBox="1296 0 16 1600"><use href="#src"/></svg><svg x="1456" y="0" width="16" height="1600" viewBox="1328 0 16 1600"><use href="#src"/></svg><svg x="1472" y="0" width="16" height="1600" viewBox="1360 0 16 1600"><use href="#src"/></svg><svg x="1488" y="0" width="16" height="1600" viewBox="1392 0 16 1600"><use href="#src"/></svg><svg x="1504" y="0" width="16" height="1600" viewBox="1424 0 16 1600"><use href="#src"/></svg><svg x="1520" y="0" width="16" height="1600" viewBox="1456 0 16 1600"><use href="#src"/></svg><svg x="1536" y="0" width="16" height="1600" viewBox="1488 0 16 1600"><use href="#src"/></svg><svg x="1552" y="0" width="16" height="1600" viewBox="1520 0 16 1600"><use href="#src"/></svg><svg x="1568" y="0" width="16" height="1600" viewBox="1552 0 16 1600"><use href="#src"/></svg><svg x="1584" y="0" width="16" height="1600" viewBox="1584 0 16 1600"><use href="#src"/></svg>
</g>
</g>
<g style="mix-blend-mode:multiply" filter="url(#bl2)"><text x="154.96" y="1591.52" font-size="40" fill="#fff8d8" font-family="Liberation Sans, sans-serif">2</text><text x="141.64" y="1591.52" font-size="40" fill="#fff8d8" font-family="Liberation Sans, sans-serif">-</text><text x="154.96" y="1444.70" font-size="40" fill="#fff8d8" font-family="Liberation Sans, sans-serif">0</text><text x="154.96" y="1297.88" font-size="40" fill="#fff8d8" font-family="Liberation Sans, sans-serif">2</text><text x="154.96" y="1151.06" font-size="40" fill="#fff8d8" font-family="Liberation Sans, sans-serif">4</text><text x="154.96" y="1004.24" font-size="40" fill="#fff8d8" font-family="Liberation Sans, sans-serif">6</text><text x="154.96" y="857.42" font-size="40" fill="#fff8d8" font-family="Liberation Sans, sans-serif">8</text><text x="154.96" y="710.60" font-size="40" fill="#fff8d8" font-family="Liberation Sans, sans-serif">0</text><path transform="translate(134.02,710.60) scale(0.01953,-0.01953)" d="M763 0 H583 V1147 Q518 1085 412.5 1023 T223 930 V1104 Q373 1174.5 485 1274.5 T644 1469 H763 Z" fill="#fff8d8"/><text x="154.96" y="563.78" font-size="40" fill="#fff8d8" font-family="Liberation Sans, sans-serif">2</text><path transform="translate(134.02,563.78) scale(0.01953,-0.01953)" d="M763 0 H583 V1147 Q518 1085 412.5 1023 T223 930 V1104 Q373 1174.5 485 1274.5 T644 1469 H763 Z" fill="#fff8d8"/><text x="154.96" y="416.96" font-size="40" fill="#fff8d8" font-family="Liberation Sans, sans-serif">4</text><path transform="translate(134.02,416.96) scale(0.01953,-0.01953)" d="M763 0 H583 V1147 Q518 1085 412.5 1023 T223 930 V1104 Q373 1174.5 485 1274.5 T644 1469 H763 Z" fill="#fff8d8"/><text x="154.96" y="270.14" font-size="40" fill="#fff8d8" font-family="Liberation Sans, sans-serif">6</text><path transform="translate(134.02,270.14) scale(0.01953,-0.01953)" d="M763 0 H583 V1147 Q518 1085 412.5 1023 T223 930 V1104 Q373 1174.5 485 1274.5 T644 1469 H763 Z" fill="#fff8d8"/><text x="154.96" y="123.32" font-size="40" fill="#fff8d8" font-family="Liberation Sans, sans-serif">8</text><path transform="translate(134.02,123.32) scale(0.01953,-0.01953)" d="M763 0 H583 V1147 Q518 1085 412.5 1023 T223 930 V1104 Q373 1174.5 485 1274.5 T644 1469 H763 Z" fill="#fff8d8"/><text x="180.21" y="1489.50" font-size="40" fill="#fff8d8" font-family="Liberation Sans, sans-serif">0</text><path transform="translate(404.41,1489.50) scale(0.01953,-0.01953)" d="M763 0 H583 V1147 Q518 1085 412.5 1023 T223 930 V1104 Q373 1174.5 485 1274.5 T644 1469 H763 Z" fill="#fff8d8"/><text x="626.01" y="1489.50" font-size="40" fill="#fff8d8" font-family="Liberation Sans, sans-serif">2</text><text x="848.91" y="1489.50" font-size="40" fill="#fff8d8" font-family="Liberation Sans, sans-serif">3</text><text x="1071.81" y="1489.50" font-size="40" fill="#fff8d8" font-family="Liberation Sans, sans-serif">4</text><text x="1294.71" y="1489.50" font-size="40" fill="#fff8d8" font-family="Liberation Sans, sans-serif">5</text><text x="1517.61" y="1489.50" font-size="40" fill="#fff8d8" font-family="Liberation Sans, sans-serif">6</text></g>
<g style="mix-blend-mode:multiply" filter="url(#bl)"> <text x="-1.5" y="37.5" font-size="50" fill="#c6f8fd" font-family="Liberation Sans, sans-serif">Force (N)</text>
<text x="1597" y="1588.3" font-size="50" text-anchor="end" fill="#c6f8fd" font-family="Liberation Sans, sans-serif">Time (sec)</text>
<path d="M202.3,1430.8 L207.5,1422.0 L224.0,1416.0 L233.0,1408.5 L241.9,1397.5 L255.0,1375.0 L266.2,1352.5 L277.5,1326.2 L286.9,1300.0 L296.2,1270.0 L303.8,1243.8 L311.2,1215.6 L318.8,1187.5 L326.5,1150.0 L337.5,1100.0 L348.8,1050.0 L360.0,1000.0 L368.8,950.0 L377.5,900.0 L385.0,850.0 L392.5,800.0 L398.5,750.0 L405.0,700.0 L412.5,650.0 L420.0,600.0 L426.2,550.0 L433.8,500.0 L438.8,450.0 L445.5,402.0 L452.6,348.0 L457.0,316.0 L462.2,284.0 L465.5,268.0 L467.7,255.5 L468.7,268.0 L469.8,284.0 L470.5,300.0 L470.8,330.0 L471.2,380.0 L472.3,450.0 L473.5,520.0 L475.0,600.0 L476.2,700.0 L477.5,795.0 L479.0,840.0 L480.6,885.0 L482.5,892.5 L505.0,893.8 L513.8,900.0 L520.0,912.5 L527.5,930.0 L533.8,943.8 L543.8,950.0 L551.2,960.0 L560.0,977.5 L570.0,1003.5 L578.8,1017.5 L587.5,1030.0 L605.0,1041.0 L620.0,1043.8 L637.5,1057.5 L657.5,1085.0 L677.5,1117.5 L695.0,1135.0 L710.0,1160.0 L735.0,1187.5 L757.5,1215.0 L780.0,1237.5 L805.0,1262.5 L830.0,1285.0 L860.0,1312.5 L885.0,1332.5 L905.0,1350.0 L930.0,1367.5 L955.0,1382.5 L980.0,1393.8 L1005.0,1401.0 L1030.0,1406.0 L1055.0,1409.5 L1080.0,1412.0 L1130.0,1415.0 L1180.0,1417.2 L1230.0,1418.8 L1280.0,1421.0 L1308.0,1422.0 L1330.0,1425.6 L1450.0,1428.5 L1577.0,1431.6 L1600.0,1432.2" stroke="#c6f8fd" stroke-width="3.2" fill="none" stroke-linejoin="round"/></g>
<g style="mix-blend-mode:screen" filter="url(#bl)"> <text x="-1.5" y="37.5" font-size="50" fill="#000e78" font-family="Liberation Sans, sans-serif">Force (N)</text>
<text x="1597" y="1588.3" font-size="50" text-anchor="end" fill="#000e78" font-family="Liberation Sans, sans-serif">Time (sec)</text>
<path d="M202.3,1430.8 L207.5,1422.0 L224.0,1416.0 L233.0,1408.5 L241.9,1397.5 L255.0,1375.0 L266.2,1352.5 L277.5,1326.2 L286.9,1300.0 L296.2,1270.0 L303.8,1243.8 L311.2,1215.6 L318.8,1187.5 L326.5,1150.0 L337.5,1100.0 L348.8,1050.0 L360.0,1000.0 L368.8,950.0 L377.5,900.0 L385.0,850.0 L392.5,800.0 L398.5,750.0 L405.0,700.0 L412.5,650.0 L420.0,600.0 L426.2,550.0 L433.8,500.0 L438.8,450.0 L445.5,402.0 L452.6,348.0 L457.0,316.0 L462.2,284.0 L465.5,268.0 L467.7,255.5 L468.7,268.0 L469.8,284.0 L470.5,300.0 L470.8,330.0 L471.2,380.0 L472.3,450.0 L473.5,520.0 L475.0,600.0 L476.2,700.0 L477.5,795.0 L479.0,840.0 L480.6,885.0 L482.5,892.5 L505.0,893.8 L513.8,900.0 L520.0,912.5 L527.5,930.0 L533.8,943.8 L543.8,950.0 L551.2,960.0 L560.0,977.5 L570.0,1003.5 L578.8,1017.5 L587.5,1030.0 L605.0,1041.0 L620.0,1043.8 L637.5,1057.5 L657.5,1085.0 L677.5,1117.5 L695.0,1135.0 L710.0,1160.0 L735.0,1187.5 L757.5,1215.0 L780.0,1237.5 L805.0,1262.5 L830.0,1285.0 L860.0,1312.5 L885.0,1332.5 L905.0,1350.0 L930.0,1367.5 L955.0,1382.5 L980.0,1393.8 L1005.0,1401.0 L1030.0,1406.0 L1055.0,1409.5 L1080.0,1412.0 L1130.0,1415.0 L1180.0,1417.2 L1230.0,1418.8 L1280.0,1421.0 L1308.0,1422.0 L1330.0,1425.6 L1450.0,1428.5 L1577.0,1431.6 L1600.0,1432.2" stroke="#000e78" stroke-width="3.2" fill="none" stroke-linejoin="round"/></g>
</svg></body></html>
